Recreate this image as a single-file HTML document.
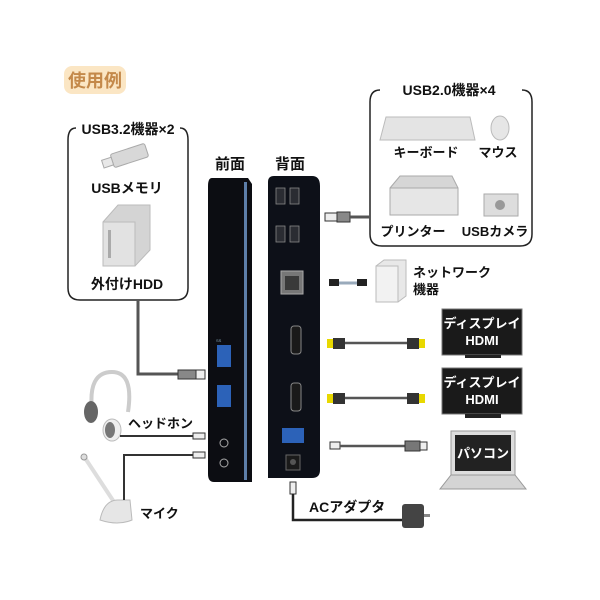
<!DOCTYPE html>
<html><head><meta charset="utf-8"><style>
body{margin:0;background:#fff;}
svg{display:block;font-family:"Liberation Sans","Noto Sans CJK JP",sans-serif;}
</style></head><body>
<svg width="600" height="600" viewBox="0 0 600 600" xmlns="http://www.w3.org/2000/svg">
<rect width="600" height="600" fill="#fff"/>
<!-- badge -->
<rect x="64" y="66" width="62" height="28" rx="8" fill="#fbe6c4"/>
<text x="95" y="87" font-size="18" font-weight="bold" fill="#c4894a" text-anchor="middle">使用例</text>

<!-- left box -->
<path d="M76 128 Q68 128 68 140 L68 288 Q68 300 80 300 L176 300 Q188 300 188 288 L188 140 Q188 128 180 128" fill="none" stroke="#222" stroke-width="1.5"/>
<rect x="78" y="118" width="100" height="20" fill="#fff"/>
<text x="128" y="134" font-size="14" font-weight="bold" fill="#111" text-anchor="middle">USB3.2機器×2</text>
<!-- usb memory -->
<g transform="rotate(-18 125 158)"><rect x="112" y="150" width="36" height="14" rx="2" fill="#d8d8d8" stroke="#aaa"/><rect x="102" y="153" width="10" height="8" fill="#e8e8e8" stroke="#aaa"/></g>
<text x="127" y="193" font-size="14" font-weight="bold" fill="#111" text-anchor="middle">USBメモリ</text>
<!-- hdd -->
<polygon points="103,222 118,205 150,205 150,250 135,266 103,266" fill="#d4d4d4" stroke="#bbb"/>
<rect x="103" y="222" width="32" height="44" fill="#e2e2e2" stroke="#bbb"/>
<rect x="108" y="230" width="3" height="28" fill="#aaa"/>
<text x="127" y="289" font-size="14" font-weight="bold" fill="#111" text-anchor="middle">外付けHDD</text>
<!-- usb cable to front -->
<polyline points="138,300 138,374 185,374" fill="none" stroke="#555" stroke-width="3"/>
<rect x="178" y="370" width="18" height="9" fill="#888" stroke="#333"/>
<rect x="196" y="370" width="9" height="9" fill="#eee" stroke="#333"/>

<!-- labels front / rear -->
<text x="230" y="169" font-size="15" font-weight="bold" fill="#111" text-anchor="middle">前面</text>
<text x="290" y="169" font-size="15" font-weight="bold" fill="#111" text-anchor="middle">背面</text>

<!-- front device -->
<path d="M212 178 L248 178 L252 184 L252 482 L214 482 Q208 482 208 474 L208 186 Q208 178 212 178Z" fill="#0c0d12"/>
<rect x="244" y="182" width="3" height="298" fill="#5d7ea8"/>
<rect x="217" y="345" width="14" height="22" fill="#2c62b8"/>
<rect x="217" y="385" width="14" height="22" fill="#2c62b8"/>
<text x="216" y="342" font-size="4" fill="#8ab">SS</text>
<circle cx="224" cy="443" r="4" fill="none" stroke="#aaa"/>
<circle cx="224" cy="463" r="4" fill="none" stroke="#aaa"/>
<!-- rear device -->
<path d="M274 176 L312 176 Q320 176 320 186 L320 470 Q320 478 312 478 L268 478 L268 182 Q268 176 274 176Z" fill="#0d1018"/>
<g fill="#2a2c32" stroke="#888" stroke-width="0.8">
<rect x="276" y="188" width="9" height="16"/><rect x="290" y="188" width="9" height="16"/>
<rect x="276" y="226" width="9" height="16"/><rect x="290" y="226" width="9" height="16"/>
</g>
<rect x="281" y="271" width="22" height="23" fill="#777" stroke="#aaa"/>
<rect x="285" y="276" width="14" height="14" fill="#3a3a3a"/>
<rect x="291" y="326" width="10" height="28" rx="3" fill="#1a1a1a" stroke="#888"/>
<rect x="291" y="383" width="10" height="28" rx="3" fill="#1a1a1a" stroke="#888"/>
<rect x="282" y="428" width="22" height="15" fill="#2c62b8"/>
<rect x="286" y="455" width="14" height="15" fill="#1a1a1a" stroke="#666"/>
<circle cx="293" cy="462" r="3" fill="#555"/>

<!-- right top box -->
<path d="M380 90 Q370 90 370 102 L370 234 Q370 246 382 246 L520 246 Q532 246 532 234 L532 102 Q532 90 522 90" fill="none" stroke="#222" stroke-width="1.5"/>
<rect x="386" y="80" width="124" height="20" fill="#fff"/>
<text x="449" y="95" font-size="14" font-weight="bold" fill="#111" text-anchor="middle">USB2.0機器×4</text>
<polygon points="386,117 470,117 475,140 380,140" fill="#e4e4e4" stroke="#bbb"/>
<ellipse cx="500" cy="128" rx="9" ry="12" fill="#e6e6e6" stroke="#bbb"/>
<text x="426" y="157" font-size="13" font-weight="bold" fill="#111" text-anchor="middle">キーボード</text>
<text x="498" y="157" font-size="13" font-weight="bold" fill="#111" text-anchor="middle">マウス</text>
<polygon points="390,188 400,176 452,176 458,188 458,215 390,215" fill="#d6d6d6" stroke="#aaa"/>
<rect x="390" y="188" width="68" height="27" fill="#e6e6e6" stroke="#aaa"/>
<rect x="484" y="194" width="34" height="22" fill="#ddd" stroke="#aaa"/>
<circle cx="500" cy="205" r="5" fill="#999"/>
<text x="413" y="236" font-size="13" font-weight="bold" fill="#111" text-anchor="middle">プリンター</text>
<text x="495" y="236" font-size="13" font-weight="bold" fill="#111" text-anchor="middle">USBカメラ</text>
<rect x="325" y="213" width="12" height="8" fill="#eee" stroke="#333"/>
<rect x="337" y="212" width="13" height="10" fill="#888" stroke="#333"/>
<line x1="350" y1="217" x2="370" y2="217" stroke="#555" stroke-width="3"/>

<!-- network -->
<rect x="329" y="279" width="10" height="7" fill="#222"/>
<line x1="339" y1="283" x2="357" y2="283" stroke="#9ab" stroke-width="3"/>
<rect x="357" y="279" width="10" height="7" fill="#222"/>
<polygon points="376,266 384,260 406,260 406,296 398,302 376,302" fill="#e8e8e8" stroke="#bbb"/>
<rect x="376" y="266" width="22" height="36" fill="#f2f2f2" stroke="#bbb"/>
<text x="413" y="277" font-size="13" font-weight="bold" fill="#111">ネットワーク</text>
<text x="413" y="294" font-size="13" font-weight="bold" fill="#111">機器</text>

<!-- displays -->
<g>
<rect x="442" y="309" width="80" height="46" fill="#1a1a1a" stroke="#777"/>
<rect x="465" y="355" width="36" height="3" fill="#222"/>
<text x="482" y="328" font-size="13" font-weight="bold" fill="#fff" text-anchor="middle">ディスプレイ</text>
<text x="482" y="345" font-size="13" font-weight="bold" fill="#fff" text-anchor="middle">HDMI</text>
<rect x="442" y="368" width="80" height="46" fill="#1a1a1a" stroke="#777"/>
<rect x="465" y="414" width="36" height="4" fill="#222"/>
<text x="482" y="387" font-size="13" font-weight="bold" fill="#fff" text-anchor="middle">ディスプレイ</text>
<text x="482" y="404" font-size="13" font-weight="bold" fill="#fff" text-anchor="middle">HDMI</text>
</g>
<g>
<rect x="327" y="339" width="6" height="9" fill="#e8d800"/><rect x="333" y="338" width="12" height="11" fill="#333"/>
<line x1="345" y1="343" x2="407" y2="343" stroke="#555" stroke-width="2.5"/>
<rect x="407" y="338" width="12" height="11" fill="#333"/><rect x="419" y="339" width="6" height="9" fill="#e8d800"/>
<rect x="327" y="394" width="6" height="9" fill="#e8d800"/><rect x="333" y="393" width="12" height="11" fill="#333"/>
<line x1="345" y1="398" x2="407" y2="398" stroke="#555" stroke-width="2.5"/>
<rect x="407" y="393" width="12" height="11" fill="#333"/><rect x="419" y="394" width="6" height="9" fill="#e8d800"/>
</g>
<!-- laptop -->
<rect x="330" y="442" width="10" height="7" fill="#eee" stroke="#333"/>
<line x1="340" y1="446" x2="405" y2="446" stroke="#555" stroke-width="2.5"/>
<rect x="405" y="441" width="15" height="10" fill="#777" stroke="#333"/>
<rect x="420" y="442" width="7" height="8" fill="#eee" stroke="#333"/>
<rect x="451" y="431" width="64" height="44" fill="#ddd" stroke="#999"/>
<rect x="455" y="435" width="56" height="36" fill="#222"/>
<text x="483" y="458" font-size="13" font-weight="bold" fill="#fff" text-anchor="middle">パソコン</text>
<polygon points="451,475 515,475 526,489 440,489" fill="#d4d4d4" stroke="#999"/>

<!-- headphones -->
<path d="M92 410 Q88 372 112 372 Q134 372 128 412" fill="none" stroke="#ccc" stroke-width="4"/>
<ellipse cx="91" cy="412" rx="7" ry="11" fill="#666"/>
<ellipse cx="112" cy="430" rx="9" ry="11" fill="#eee" stroke="#bbb"/>
<ellipse cx="110" cy="430" rx="5" ry="8" fill="#777"/>
<text x="128" y="428" font-size="13" font-weight="bold" fill="#111">ヘッドホン</text>
<line x1="120" y1="436" x2="193" y2="436" stroke="#333" stroke-width="2"/>
<rect x="193" y="433" width="12" height="6" fill="#eee" stroke="#333"/>
<!-- mic -->
<line x1="85" y1="458" x2="116" y2="505" stroke="#ddd" stroke-width="4"/>
<circle cx="84" cy="457" r="3" fill="#ddd" stroke="#999"/>
<path d="M100 520 Q104 500 118 500 L130 500 L132 520 Q118 526 100 520Z" fill="#e6e6e6" stroke="#bbb"/>
<polyline points="124,500 124,455 193,455" fill="none" stroke="#333" stroke-width="2"/>
<rect x="193" y="452" width="12" height="6" fill="#eee" stroke="#333"/>
<text x="140" y="518" font-size="13" font-weight="bold" fill="#111">マイク</text>

<!-- AC adapter -->
<rect x="290" y="482" width="6" height="12" fill="#eee" stroke="#333"/>
<polyline points="293,494 293,520 405,520" fill="none" stroke="#222" stroke-width="2.5"/>
<rect x="402" y="504" width="22" height="24" rx="3" fill="#444"/>
<rect x="424" y="514" width="6" height="3" fill="#888"/>
<text x="309" y="512" font-size="14" font-weight="bold" fill="#111">ACアダプタ</text>
</svg>
</body></html>
